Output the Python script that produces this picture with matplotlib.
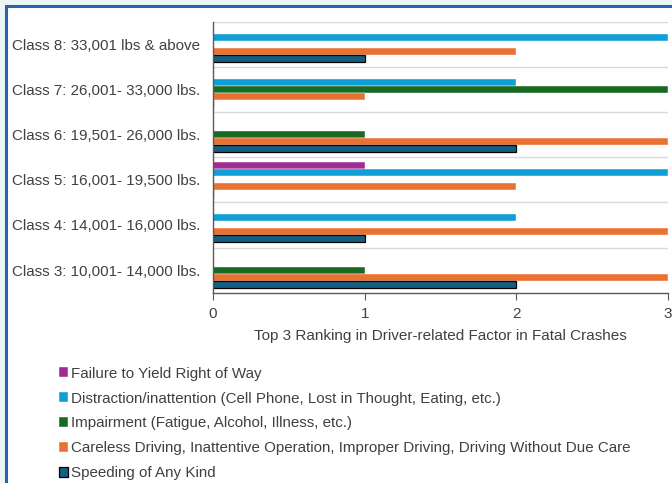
import matplotlib.pyplot as plt
from matplotlib.patches import Rectangle

plt.rcParams['font.family'] = ['Liberation Sans', 'DejaVu Sans']

classes = ['Class 3: 10,001- 14,000 lbs.', 'Class 4: 14,001- 16,000 lbs.',
           'Class 5: 16,001- 19,500 lbs.', 'Class 6: 19,501- 26,000 lbs.',
           'Class 7: 26,001- 33,000 lbs.', 'Class 8: 33,001 lbs & above']

failure = [0, 0, 1, 0, 0, 0]
distraction = [0, 2, 3, 0, 2, 3]
impairment = [1, 0, 0, 1, 3, 0]
careless = [3, 3, 2, 3, 1, 2]
speeding = [2, 1, 0, 2, 0, 1]

series = [
    ('Failure to Yield Right of Way', failure, '#A02B93'),
    ('Distraction/inattention (Cell Phone, Lost in Thought, Eating, etc.)', distraction, '#0F9ED5'),
    ('Impairment (Fatigue, Alcohol, Illness, etc.)', impairment, '#196B24'),
    ('Careless Driving, Inattentive Operation, Improper Driving, Driving Without Due Care', careless, '#E97132'),
    ('Speeding of Any Kind', speeding, '#156082'),
]

fig = plt.figure(figsize=(6.72, 4.83), dpi=100)
fig.patch.set_facecolor('#EEF5F5')
fig.add_artist(Rectangle((6 / 672, -0.1), 1, 1.1 - 6 / 483, transform=fig.transFigure,
                         facecolor='white', edgecolor='#2A64A8', linewidth=2.2, zorder=-10))

ax = fig.add_axes([213 / 672, 1 - 292.7 / 483, 455 / 672, 271 / 483])
ax.set_facecolor('none')

h = 0.155
y = list(range(len(classes)))
handles = []
for k, (name, vals, col) in enumerate(series):
    off = (2 - k) * h
    ec = 'black' if k == 4 else 'white'
    lw = 0.9 if k == 4 else 0.3
    b = ax.barh([v + off for v in y], vals, height=h, color=col, edgecolor=ec, linewidth=lw, label=name)
    handles.append(b)

ax.set_xlim(0, 3)
ax.set_ylim(-0.5, len(classes) - 0.5)
ax.set_xticks([0, 1, 2, 3])
ax.set_yticks(y)
ax.set_yticklabels(classes)
for g in range(len(classes)):
    ax.axhline(g + 0.5, color='#D9D9D9', lw=1, zorder=0)

for s in ['top', 'right']:
    ax.spines[s].set_visible(False)
for s in ['left', 'bottom']:
    ax.spines[s].set_color('#595959')
    ax.spines[s].set_linewidth(1)
ax.tick_params(axis='y', length=0, pad=9.4, labelsize=10.9, labelcolor='#404040')
ax.tick_params(axis='x', length=5, color='#595959', pad=5, labelsize=11, labelcolor='#404040')
ax.set_xlabel('Top 3 Ranking in Driver-related Factor in Fatal Crashes', fontsize=11,
              color='#404040', labelpad=6)

leg = fig.legend(handles=handles, loc='upper left', bbox_to_anchor=(45 / 672, 1 - 353 / 483),
                 frameon=False, fontsize=10.9, labelcolor='#404040', handlelength=0.65,
                 handleheight=0.65, handletextpad=0.2, labelspacing=0.72)

fig.savefig('out.png', dpi=100)
